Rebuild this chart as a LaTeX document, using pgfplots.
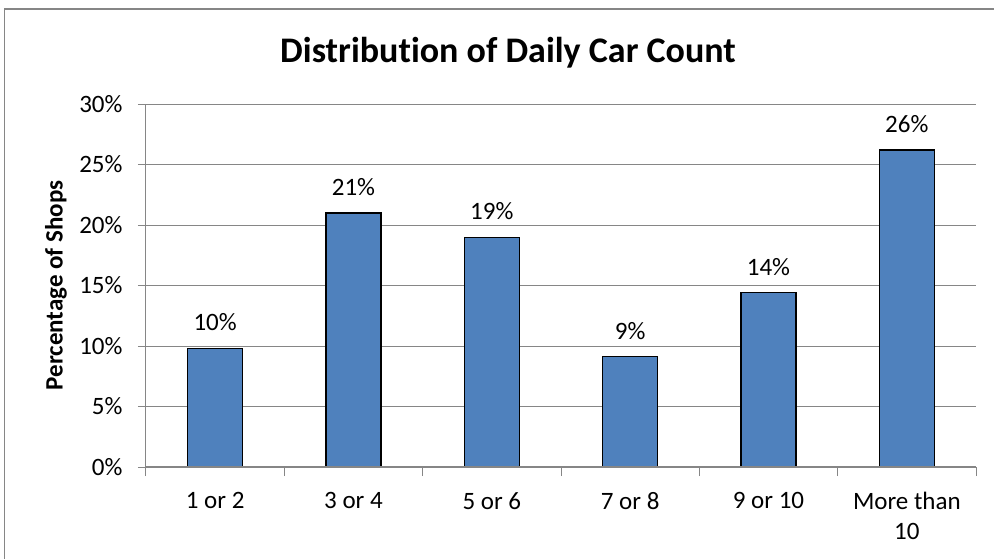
\documentclass[border=0pt]{standalone}
\usepackage{pgfplots}
\pgfplotsset{compat=1.18}
\usepackage{fontspec}
\setmainfont{Carlito}[Ligatures=NoCommon]
\definecolor{barblue}{HTML}{4F81BD}
\definecolor{axgray}{HTML}{868686}
\begin{document}
\begin{tikzpicture}
\useasboundingbox (0,0) rectangle (994pt,558pt);
\fill[white] (0,0) rectangle (994pt,558pt);
\draw[axgray, line width=1.5pt] (4.5pt,-5pt) -- (4.5pt,549pt) -- (1000pt,549pt);
\node[font=\fontsize{36}{43}\selectfont\bfseries, anchor=base] at (508pt,495.7pt) {Distribution of Daily Car Count};
\begin{axis}[
  at={(146pt,91pt)}, anchor=south west,
  scale only axis, width=830pt, height=363pt,
  xmin=-0.5, xmax=5.5, ymin=0, ymax=30,
  axis lines=left,
  axis line style={draw=axgray, line width=1pt, -},
  xtick={0,...,5},
  xticklabels={1 or 2,3 or 4,5 or 6,7 or 8,9 or 10,{More than\\10}},
  minor xtick={-0.5,0.5,...,5.5},
  major x tick style={draw=none},
  minor x tick style={draw=axgray, line width=1pt},
  major y tick style={draw=axgray, line width=1pt},
  major tick length=8pt, minor tick length=9pt,
  tick align=outside,
  ytick={0,5,...,30},
  yticklabels={0\%,5\%,10\%,15\%,20\%,25\%,30\%},
  ymajorgrids,
  grid style={draw=axgray, line width=1pt},
  ticklabel style={font=\fontsize{25}{30}\selectfont},
  xticklabel style={align=center, anchor=north, yshift=-14pt},
  yticklabel style={anchor=east, xshift=-12pt},
  ylabel={Percentage of Shops},
  every axis y label/.style={at={(axis description cs:-0.1006,0.5)}, rotate=90, anchor=base, font=\fontsize{25}{30}\selectfont\bfseries},
  ybar, bar width=55pt,
  nodes near coords,
  point meta=explicit symbolic,
  every node near coord/.style={font=\fontsize{25}{30}\selectfont, fill=white, inner xsep=9pt, inner ysep=4pt, anchor=base, yshift=17.5pt, text=black},
  clip=false,
]
\addplot[fill=barblue, draw=black, line width=1.2pt] table[x=x, y=y, meta=lab] {
x y lab
0 9.8 10\%
1 21.0 21\%
2 19.0 19\%
3 9.1 9\%
4 14.4 14\%
5 26.2 26\%
};
\draw[axgray, line width=1.2pt] (axis cs:-0.5,0) -- (axis cs:5.5,0);
\end{axis}
\end{tikzpicture}
\end{document}
